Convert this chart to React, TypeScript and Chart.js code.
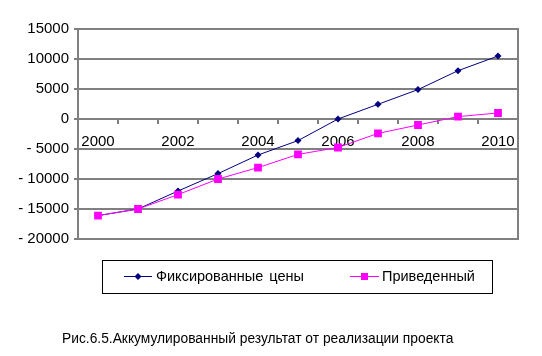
import React, { useEffect, useRef } from "react";
import { Chart, registerables } from "chart.js";

Chart.register(...registerables);

const years = ["2000", "2001", "2002", "2003", "2004", "2005", "2006", "2007", "2008", "2009", "2010"];
const fixedPrices = [-16100, -15000, -12000, -9100, -6000, -3600, 0, 2450, 4900, 8050, 10500];
const reduced = [-16100, -15000, -12600, -10000, -8100, -5900, -4750, -2400, -1000, 400, 1000];
const seriesNames = ["Фиксированные цены", "Приведенный"];
const caption = "Рис.6.5.Аккумулированный результат от реализации проекта";

const BLUE = "#000080";
const PINK = "#FF00FF";
const GRID = "#808080";
const FONT = "'Liberation Sans', Arial, sans-serif";

const overlayPlugin = {
  id: "overlay",
  afterDraw(chart: any) {
    const ctx = chart.ctx;
    const a = chart.chartArea;
    ctx.save();
    // right frame line
    ctx.strokeStyle = GRID;
    ctx.lineWidth = 2;
    ctx.beginPath();
    ctx.moveTo(Math.round(a.right), a.top - 1);
    ctx.lineTo(Math.round(a.right), a.bottom + 1);
    ctx.stroke();

    // legend box
    ctx.strokeStyle = "#000";
    ctx.lineWidth = 1;
    ctx.strokeRect(102.5, 260.5, 390, 33);
    const ly = 276;
    ctx.font = "14.5px " + FONT;
    ctx.textBaseline = "middle";
    ctx.fillStyle = "#000";
    // item 1
    ctx.strokeStyle = BLUE;
    ctx.beginPath();
    ctx.moveTo(124, ly + 0.5);
    ctx.lineTo(152, ly + 0.5);
    ctx.stroke();
    ctx.fillStyle = BLUE;
    ctx.beginPath();
    ctx.moveTo(138, ly - 3);
    ctx.lineTo(141.5, ly + 0.5);
    ctx.lineTo(138, ly + 4);
    ctx.lineTo(134.5, ly + 0.5);
    ctx.closePath();
    ctx.fill();
    ctx.fillStyle = "#000";
    const words = seriesNames[0].split(" ");
    ctx.fillText(words[0], 156, ly + 1);
    const w0 = ctx.measureText(words[0] + " ").width;
    ctx.fillText(words.slice(1).join(" "), 156 + w0 + 2, ly + 1);
    // item 2
    ctx.strokeStyle = PINK;
    ctx.beginPath();
    ctx.moveTo(350, ly + 0.5);
    ctx.lineTo(379, ly + 0.5);
    ctx.stroke();
    ctx.fillStyle = PINK;
    ctx.fillRect(361, ly - 3, 7, 7);
    ctx.fillStyle = "#000";
    ctx.fillText(seriesNames[1], 382, ly + 1);

    // caption
    ctx.font = "13.8px " + FONT;
    ctx.fillText(caption, 62, 339);
    ctx.restore();
  },
};

export default function App() {
  const ref = useRef<HTMLCanvasElement>(null);
  useEffect(() => {
    if (!ref.current) return;
    const chart = new Chart(ref.current, {
      type: "line",
      data: {
        labels: years,
        datasets: [
          {
            label: seriesNames[0],
            data: fixedPrices,
            borderColor: BLUE,
            backgroundColor: BLUE,
            borderWidth: 1,
            pointStyle: "rectRot",
            pointRadius: 3.5,
            pointBorderWidth: 0,
            tension: 0,
            order: 1,
          },
          {
            label: seriesNames[1],
            data: reduced,
            borderColor: PINK,
            backgroundColor: PINK,
            borderWidth: 1,
            pointStyle: "rect",
            pointRadius: 5.5,
            pointBorderWidth: 0,
            tension: 0,
            order: 0,
          },
        ],
      },
      options: {
        responsive: false,
        animation: false,
        layout: { padding: { left: 0, right: 24, top: 29, bottom: 117 } },
        plugins: { legend: { display: false }, tooltip: { enabled: false } },
        scales: {
          x: {
            type: "category",
            position: { y: 0 } as any,
            offset: true,
            grid: {
              offset: true,
              drawOnChartArea: false,
              drawTicks: true,
              tickLength: 4,
              color: GRID,
              lineWidth: 2,
            },
            border: { color: GRID, width: 2 },
            ticks: {
              autoSkip: false,
              maxRotation: 0,
              padding: 10,
              color: "#000",
              font: { family: FONT, size: 15 },
              callback: (_v: any, i: number) => (i % 2 === 0 ? years[i] : ""),
            },
          },
          y: {
            position: "left",
            min: -20000,
            max: 15000,
            afterFit: (s: any) => {
              s.width = 78;
            },
            grid: { color: GRID, lineWidth: 2, tickLength: 4 },
            border: { color: GRID, width: 2 },
            ticks: {
              stepSize: 5000,
              padding: 5,
              color: "#000",
              font: { family: FONT, size: 15 },
              callback: (v: any) => (Number(v) < 0 ? "- " + Math.abs(Number(v)) : String(v)),
            },
          },
        },
      },
      plugins: [overlayPlugin],
    });
    return () => chart.destroy();
  }, []);
  return (
    <div style={{ position: "absolute", left: 0, top: 0, width: 542, height: 356, background: "#fff" }}>
      <canvas ref={ref} width={542} height={356} />
    </div>
  );
}
